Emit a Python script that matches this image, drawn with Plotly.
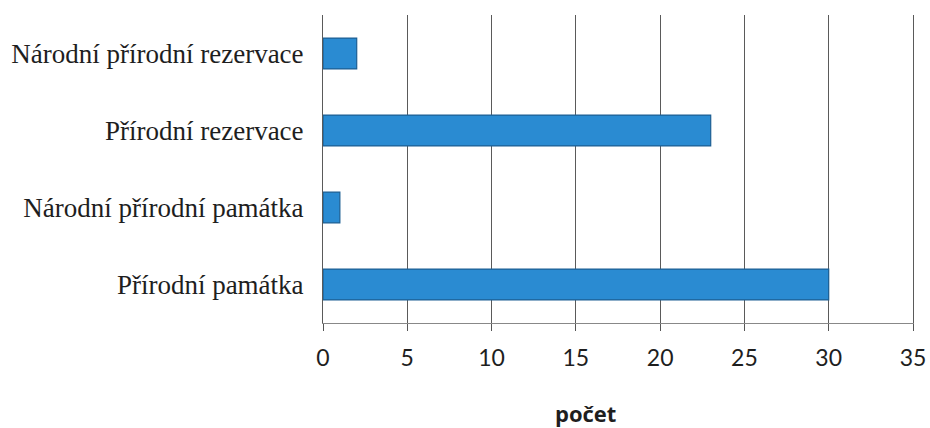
import plotly.graph_objects as go

categories = ["Přírodní památka", "Národní přírodní památka", "Přírodní rezervace", "Národní přírodní rezervace"]
values = [30, 1, 23, 2]
tick_vals = [0, 5, 10, 15, 20, 25, 30, 35]

fig = go.Figure()
fig.add_trace(go.Bar(
    y=categories, x=values, orientation="h",
    marker=dict(color="#2a8bd2", line=dict(color="#1c5f93", width=1.2)),
    width=0.4,
))

L, R, T, B = 323, 17, 15, 105
fig.update_layout(
    width=930, height=428,
    margin=dict(l=L, r=R, t=T, b=B, autoexpand=False),
    plot_bgcolor="white", paper_bgcolor="white",
    showlegend=False,
    xaxis=dict(
        range=[0, 35], tickvals=tick_vals, showgrid=True, gridcolor="#5a5a5a", gridwidth=1,
        zeroline=False, showline=True, linecolor="#888888", linewidth=1,
        ticks="outside", ticklen=7, tickcolor="#555555",
        tickfont=dict(family="Lato", size=23, color="#1e1e1e"),
        ticklabelstandoff=7, automargin=False,
    ),
    yaxis=dict(
        showgrid=False, zeroline=False, showline=True, mirror=True,
        linecolor="#5a5a5a", linewidth=1, ticks="",
        tickfont=dict(family="Liberation Serif", size=27, color="#1e1e1e"),
        ticklabelstandoff=13, automargin=False,
    ),
    annotations=[dict(
        text="<b>počet</b>", x=(585 - L) / (930 - L - R), xref="paper",
        y=-(413 - (428 - B)) / (428 - T - B), yref="paper", yanchor="middle",
        showarrow=False,
        font=dict(family="Open Sans", size=22, color="#1e1e1e"),
    )],
)
fig.write_html("out.html", config={"displayModeBar": False},
               post_script="document.body.style.margin='0px';")
